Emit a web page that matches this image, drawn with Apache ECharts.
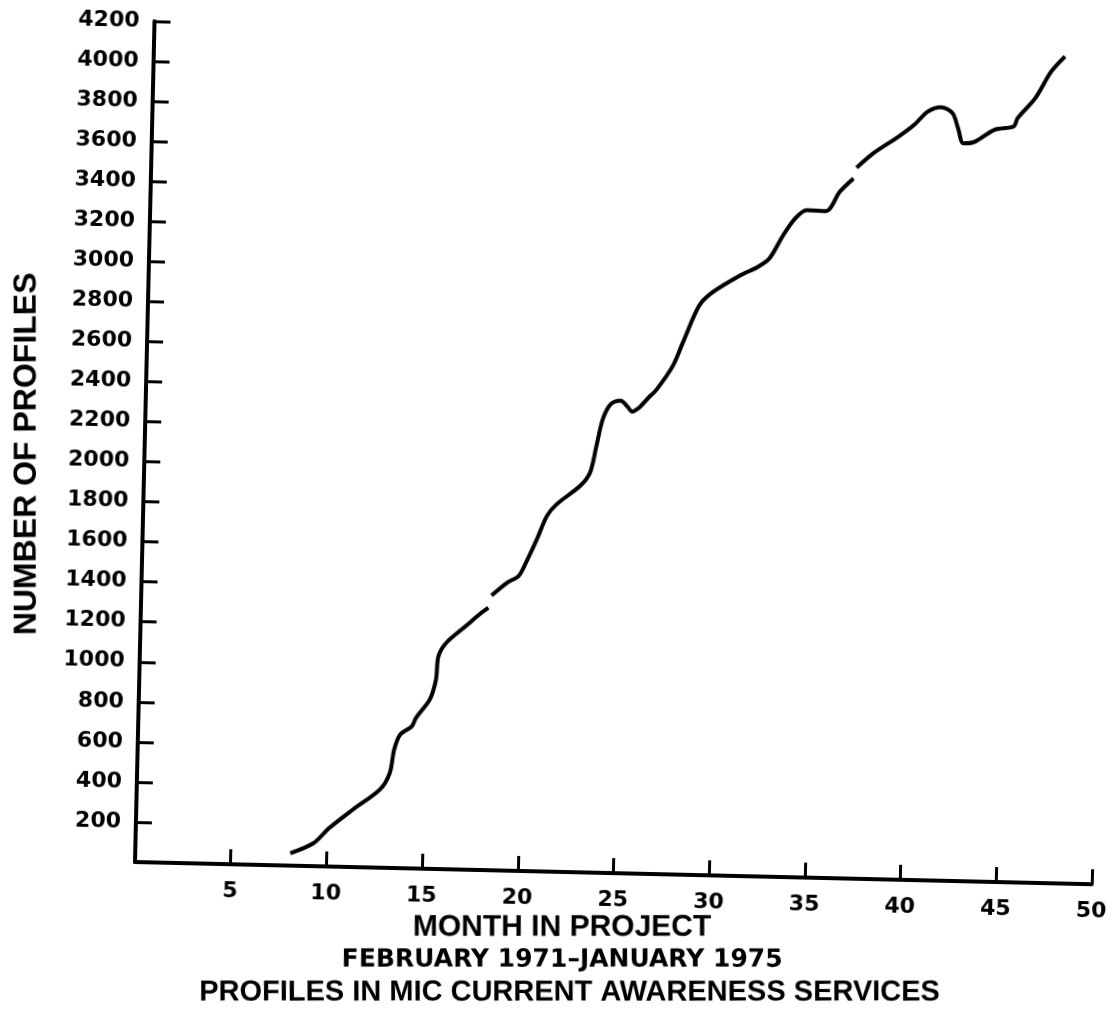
<!DOCTYPE html>
<html>
<head>
<meta charset="utf-8">
<script src="https://cdn.jsdelivr.net/npm/echarts@6/dist/echarts.min.js"></script>
<style>
  html, body { margin: 0; padding: 0; background: #fff; overflow: hidden; }
  #chart { width: 1112px; height: 1027px; transform-origin: 134px 862px; transform: rotate(1.33deg); }
</style>
</head>
<body>
<div id="chart"></div>
<script>
// Month in project (x) and number of profiles (y); null marks a break in the drawn curve
const months = [8.1, 9.3, 10.1, 11.3, 12.7, 13.2, 13.4, 13.7, 14.3, 14.5, 15.2, 15.5, 15.6, 16.0, 17.0, 17.7, 18.15, 18.2, 18.3, 19.1, 19.7, 20.1, 20.6, 21.1, 21.6, 22.8, 23.3, 23.6, 23.9, 24.3, 24.8, 25.2, 25.4, 25.8, 26.2, 26.7, 27.5, 28.0, 28.8, 29.5, 30.9, 31.8, 32.4, 33.1, 33.7, 34.3, 35.3, 36.0, 36.7, 36.8, 36.85, 37.7, 39.0, 39.8, 40.5, 41.2, 41.8, 42.1, 42.4, 43.0, 44.0, 45.0, 45.2, 46.1, 46.9, 47.6];
const profiles = [62, 115, 192, 286, 390, 474, 591, 667, 710, 752, 846, 946, 1063, 1131, 1217, 1277, 1310, null, 1372, 1438, 1473, 1549, 1658, 1776, 1836, 1930, 1998, 2132, 2266, 2342, 2360, 2328, 2306, 2329, 2372, 2423, 2541, 2660, 2844, 2913, 2999, 3043, 3086, 3205, 3289, 3332, 3330, 3428, 3496, null, 3550, 3624, 3710, 3770, 3839, 3862, 3833, 3759, 3684, 3694, 3755, 3774, 3816, 3918, 4053, 4130];

const xAxisName = 'MONTH IN PROJECT';
const yAxisName = 'NUMBER OF PROFILES';
const subtitle = 'FEBRUARY 1971–JANUARY 1975';
const title = 'PROFILES IN MIC CURRENT AWARENESS SERVICES';

const xMin = 0, xMax = 50, xStep = 5;
const yMin = 0, yMax = 4200, yStep = 200;

const tilt = 1.33 * Math.PI / 180; // page tilt of the scanned original (counter-rotated for titles)

const chart = echarts.init(document.getElementById('chart'), null, { renderer: 'canvas' });

const axisLabelStyle = {
  color: '#000',
  fontFamily: 'DejaVu Sans',
  fontWeight: 'bold',
  fontSize: 22,
  showMinLabel: false,
  formatter: v => String(v)
};

chart.setOption({
  animation: false,
  backgroundColor: '#fff',
  grid: { left: 135, top: 21, width: 957, height: 841, containLabel: false },
  xAxis: {
    type: 'value', min: xMin, max: xMax, interval: xStep,
    axisLine: { show: true, lineStyle: { color: '#000', width: 4 } },
    axisTick: { show: true, inside: true, length: 15, lineStyle: { color: '#000', width: 3 } },
    axisLabel: Object.assign({ margin: 16 }, axisLabelStyle),
    splitLine: { show: false }
  },
  yAxis: {
    type: 'value', min: yMin, max: yMax, interval: yStep,
    axisLine: { show: true, lineStyle: { color: '#000', width: 4 } },
    axisTick: { show: true, inside: true, length: 16, lineStyle: { color: '#000', width: 3 } },
    axisLabel: Object.assign({ margin: 15 }, axisLabelStyle),
    splitLine: { show: false }
  },
  series: [{
    type: 'line',
    data: months.map((m, i) => [m, profiles[i] === null ? '-' : profiles[i]]),
    smooth: 0.3,
    symbol: 'none',
    connectNulls: false,
    lineStyle: { color: '#000', width: 4 }
  }],
  graphic: [
    { type: 'text', x: 17.5, y: 456.5, rotation: Math.PI / 2 + tilt,
      style: { text: yAxisName, fill: '#000', font: 'bold 32px "Liberation Sans"', textAlign: 'center', textVerticalAlign: 'middle' } },
    { type: 'text', x: 563.5, y: 917.6, rotation: tilt,
      style: { text: xAxisName, fill: '#000', font: 'bold 30px "Liberation Sans"', textAlign: 'center', textVerticalAlign: 'middle' } },
    { type: 'text', x: 564.3, y: 950.1, rotation: tilt,
      style: { text: subtitle, fill: '#000', font: 'bold 25px "DejaVu Sans"', textAlign: 'center', textVerticalAlign: 'middle' } },
    { type: 'text', x: 572.5, y: 982.4, rotation: tilt,
      style: { text: title, fill: '#000', font: 'bold 29px "Liberation Sans"', textAlign: 'center', textVerticalAlign: 'middle' } }
  ]
});
</script>
</body>
</html>
